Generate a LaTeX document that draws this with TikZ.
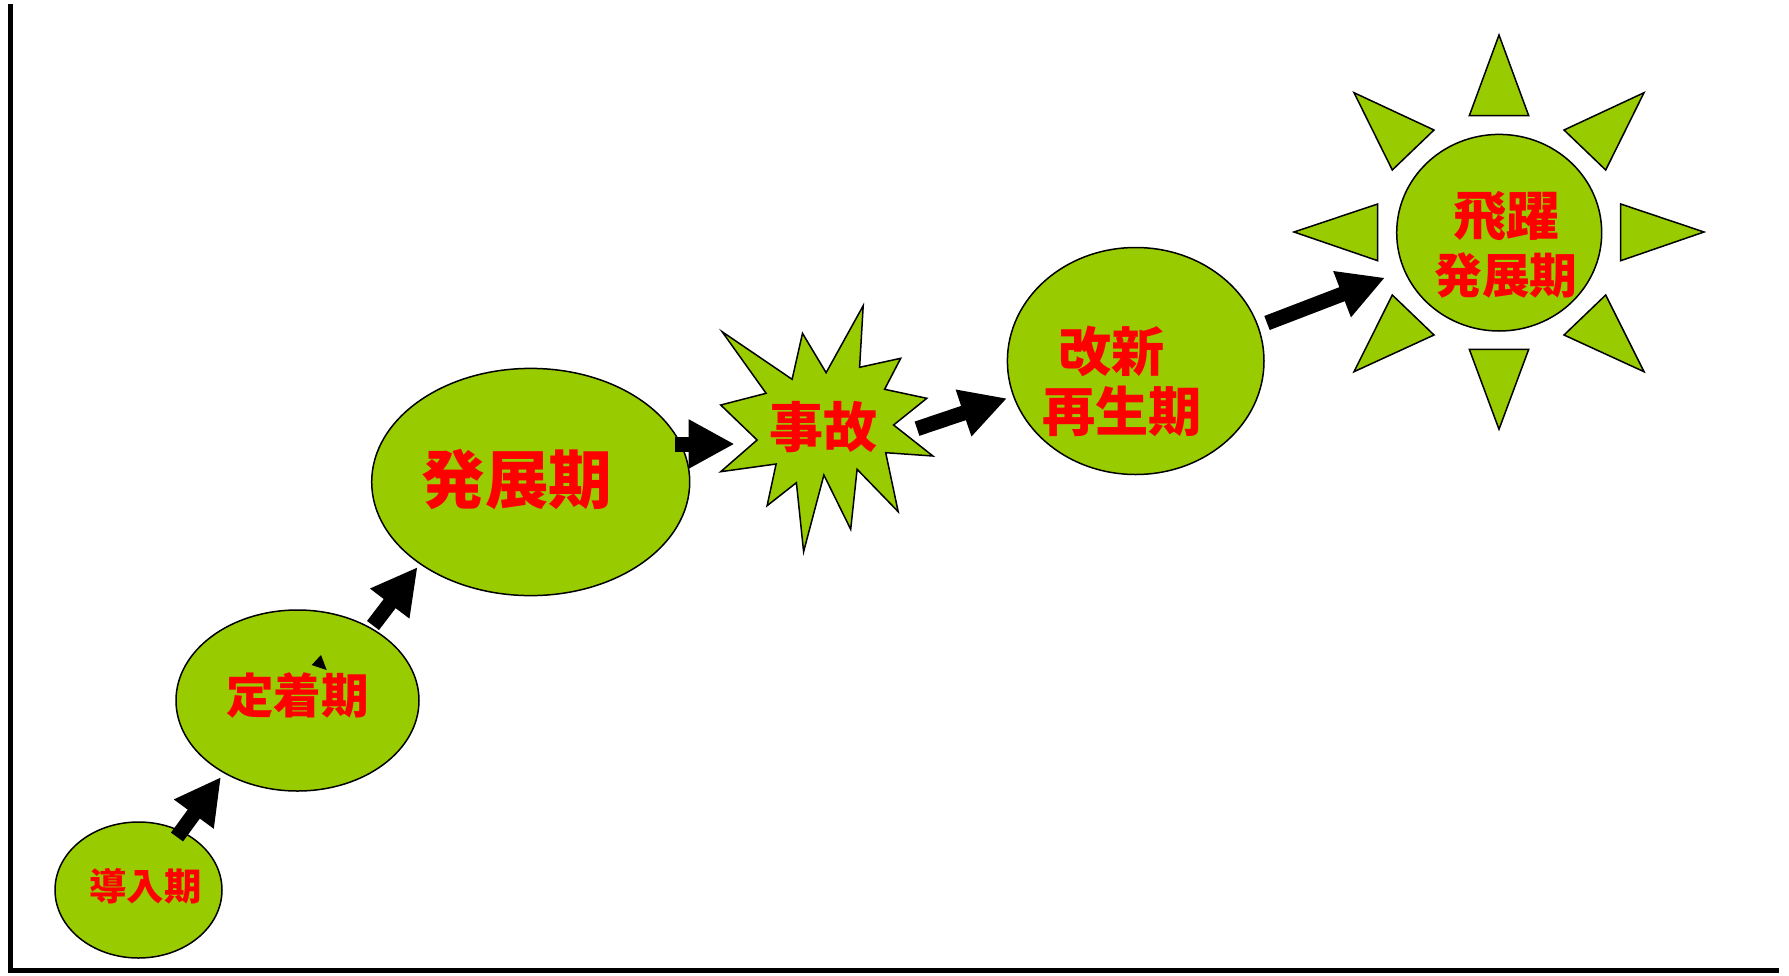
\documentclass[tikz,border=0pt]{standalone}
\usepackage{fontspec}
\newfontfamily\jp{Noto Sans CJK JP}
\usetikzlibrary{shapes.geometric,arrows.meta}
\definecolor{leaf}{HTML}{99CC00}
\definecolor{txtred}{HTML}{FF0000}
\tikzset{
  blob/.style={ellipse, draw=black, line width=0.75pt, fill=leaf, inner sep=0pt},
  shapefill/.style={draw=black, line width=0.75pt, fill=leaf, line join=miter},
  lbl/.style={text=txtred, inner sep=0pt, align=center},
  bigarrow/.style={line width=7.5pt, -{Triangle[length=23pt,width=23pt]}},
  axisline/.style={line width=2.5pt, line cap=rect}
}
\newcommand{\jpsize}[2]{\fontsize{#1}{#2}\jp\bfseries\selectfont}
\begin{document}
\begin{tikzpicture}[x=0.5pt,y=-0.5pt]
\useasboundingbox (0,0) rectangle (1789,975);
% axes
\coordinate (top) at (10,6);
\coordinate (origin) at (10,970);
\coordinate (right) at (1776,970);
\draw[axisline] (top) -- (origin) -- (right);

% ellipses
\node[blob, minimum width=83.5pt, minimum height=68pt] (e1) at (138.5,890) {};
\node[blob, minimum width=121.5pt, minimum height=90.5pt] (e2) at (297.5,700.5) {};
\node[blob, minimum width=159pt, minimum height=113.6pt] (e3) at (530.7,482) {};
\node[blob, minimum width=128.3pt, minimum height=113.5pt] (e4) at (1135.7,361) {};
\node[blob, minimum width=102.5pt, minimum height=98.3pt] (sun) at (1499.2,232.7) {};

% explosion
\draw[shapefill] (722.1,331.7) -- (792.1,379.3) -- (802.5,333.3) -- (826.1,372.7)
  -- (863.2,305.7) -- (859.6,367.3) -- (900.7,358.3) -- (884.6,389.3)
  -- (926.8,398.3) -- (893.6,425) -- (932.9,456) -- (885.7,452.7)
  -- (898.2,511.7) -- (857.1,469.3) -- (850.7,529.3) -- (823.9,475)
  -- (803.6,551.7) -- (796.4,482.7) -- (767.1,505.7) -- (776.1,464)
  -- (720.7,471.7) -- (757.1,440) -- (720.7,405) -- (766.1,393.3) -- cycle;

% sun rays
\draw[shapefill] (1499,35) -- (1528.7,115.7) -- (1469.3,115.7) -- cycle;
\draw[shapefill] (1499,429.3) -- (1528.7,349.3) -- (1469.3,349.3) -- cycle;
\draw[shapefill] (1294,232) -- (1377.7,204) -- (1377.7,260.7) -- cycle;
\draw[shapefill] (1704,232) -- (1620.7,204) -- (1620.7,260.7) -- cycle;
\draw[shapefill] (1354,92.7) -- (1434,130) -- (1392.3,170) -- cycle;
\draw[shapefill] (1644,92.7) -- (1564,130) -- (1605.7,170) -- cycle;
\draw[shapefill] (1354,371.7) -- (1434,335) -- (1392.3,295) -- cycle;
\draw[shapefill] (1644,371.7) -- (1564,335) -- (1605.7,295) -- cycle;

% labels
\node[lbl, font=\jpsize{18.7pt}{22pt}] (t1) at (145.5,886) {導入期};
\node[lbl, font=\jpsize{23.8pt}{28pt}] (t2) at (297.5,695) {定着期};
\node[lbl, font=\jpsize{31.8pt}{36pt}] (t3) at (517,479) {発展期};
\node[lbl, font=\jpsize{27pt}{30pt}] (t4) at (823.5,426.7) {事故};
\node[lbl, font=\jpsize{26.6pt}{30pt}] (t5) at (1122,381.5) {改新\hbox to 10.5pt{}\\再生期};
\node[lbl, font=\jpsize{23.9pt}{29pt}] (t6) at (1506,244.6) {{\jpsize{26.5pt}{29pt}飛躍}\\発展期};

% small stray arrowhead
\fill (311.7,665) -- (321,655) -- (326.7,670) -- cycle;

% arrows
\coordinate (a1s) at (177,837);   \coordinate (a1e) at (221,777);
\coordinate (a2s) at (373,625.5); \coordinate (a2e) at (417.6,567);
\coordinate (a3s) at (675,444);   \coordinate (a3e) at (734.6,444);
\coordinate (a4s) at (917,428.7); \coordinate (a4e) at (1007.1,398.3);
\coordinate (a5s) at (1267,323);  \coordinate (a5e) at (1385,277.7);
\draw[bigarrow] (a1s) -- (a1e);
\draw[bigarrow] (a2s) -- (a2e);
\draw[bigarrow] (a3s) -- (a3e);
\draw[bigarrow] (a4s) -- (a4e);
\draw[bigarrow] (a5s) -- (a5e);
\end{tikzpicture}
\end{document}
